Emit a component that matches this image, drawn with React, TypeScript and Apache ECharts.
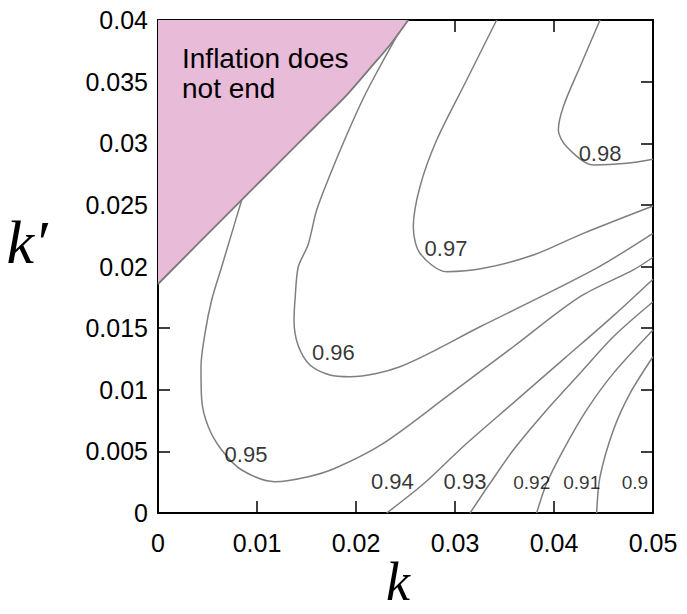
import React, { useEffect, useRef } from "react";
import * as echarts from "echarts";

// Axis tick labels
const xTickLabels = ["0", "0.01", "0.02", "0.03", "0.04", "0.05"];
const yTickLabels = ["0", "0.005", "0.01", "0.015", "0.02", "0.025", "0.03", "0.035", "0.04"];

// Boundary of the "Inflation does not end" region [k, k']
const boundary = [
  [0, 0.01858], [0.007273, 0.02445], [0.01064, 0.02716], [0.013, 0.02905],
  [0.01603, 0.03148], [0.01906, 0.03391], [0.02141, 0.03608], [0.02343, 0.03797],
  [0.02528, 0.04],
];

// Contour lines [k, k']
const contour098 = [
  [0.04465, 0.04], [0.04263, 0.03621], [0.04094, 0.03297], [0.04044, 0.03107],
  [0.04128, 0.02972], [0.04397, 0.02824], [0.04734, 0.02837], [0.05, 0.0287],
];
const contour097 = [
  [0.03421, 0.04], [0.03118, 0.03513], [0.02815, 0.03026], [0.02646, 0.02647],
  [0.02579, 0.02323], [0.02646, 0.02107], [0.02916, 0.01958], [0.03286, 0.01985],
  [0.03791, 0.02093], [0.04296, 0.02269], [0.05, 0.02491],
];
const contour096 = [
  [0.02427, 0.03892], [0.02209, 0.03574], [0.02074, 0.03365], [0.01906, 0.03067],
  [0.01737, 0.02742], [0.01603, 0.02458], [0.01515, 0.02174], [0.01417, 0.01998],
  [0.01384, 0.01728], [0.01374, 0.01566], [0.01414, 0.01363], [0.01535, 0.01201],
  [0.01737, 0.0112], [0.01939, 0.01106], [0.02444, 0.01187], [0.03253, 0.01511],
  [0.04397, 0.01972], [0.05, 0.02269],
];
const contour095 = [
  [0.008455, 0.0254], [0.007444, 0.02269], [0.006434, 0.01998], [0.005424, 0.01728],
  [0.004747, 0.01458], [0.004343, 0.01187], [0.004414, 0.009168], [0.005081, 0.007002],
  [0.006434, 0.005111], [0.008455, 0.003489], [0.01182, 0.00254], [0.01518, 0.002945],
  [0.01788, 0.003627], [0.02276, 0.005655], [0.02916, 0.00944], [0.03589, 0.01349],
  [0.04263, 0.01755], [0.04801, 0.01972], [0.05, 0.02075],
];
const contour094 = [
  [0.0231, 0], [0.0268, 0.00235], [0.03084, 0.0054], [0.03589, 0.00893],
  [0.04094, 0.01246], [0.04599, 0.01599], [0.05, 0.01896],
];
const contour093 = [
  [0.03152, 0], [0.03354, 0.00241], [0.03589, 0.00511], [0.03926, 0.00836],
  [0.04263, 0.01133], [0.04599, 0.0143], [0.05, 0.01714],
];
const contour092 = [
  [0.03825, 0], [0.03926, 0.00241], [0.04094, 0.00511], [0.0433, 0.00836],
  [0.04599, 0.01133], [0.05, 0.01485],
];
const contour091 = [
  [0.04431, 0], [0.04465, 0.00295], [0.046, 0.00674], [0.04768, 0.00971],
  [0.05, 0.01268],
];

// Contour level labels
const labelTexts = ["0.98", "0.97", "0.96", "0.95", "0.94", "0.93", "0.92", "0.91", "0.9"];
const labelK = [0.04465, 0.02909, 0.01771, 0.00889, 0.02367, 0.03101, 0.03775, 0.0428, 0.04818];
const labelKp = [0.02918, 0.02148, 0.01301, 0.004787, 0.00254, 0.00254, 0.002515, 0.002475, 0.002475];

const contours = [contour098, contour097, contour096, contour095, contour094, contour093, contour092, contour091];

const LINE_COLOR = "#7f7f7f";
const SANS = "'Liberation Sans', Arial, Helvetica, sans-serif";
const SERIF = "'Liberation Serif', 'Times New Roman', serif";

export default function App() {
  const ref = useRef<HTMLDivElement>(null);

  useEffect(() => {
    if (!ref.current) return;
    const chart = echarts.init(ref.current, undefined, { renderer: "svg" });

    const smallLabels = ["0.92", "0.91", "0.9"];
    const labelData = labelTexts.map((t, i) => ({
      value: [labelK[i], labelKp[i]],
      name: t,
      label: { fontSize: smallLabels.includes(t) ? 19 : 22 },
    }));

    const axisCommon = {
      type: "value" as const,
      splitLine: { show: false },
      axisLine: { show: true, onZero: false, lineStyle: { color: "#000", width: 2 } },
      axisTick: { show: true, inside: true, length: 12, lineStyle: { color: "#000", width: 1.5 } },
    };

    chart.setOption({
      animation: false,
      grid: { left: 158, top: 20, right: 34, bottom: 101, containLabel: false, outerBoundsMode: "none" },
      xAxis: [
        {
          ...axisCommon,
          min: 0,
          max: 0.05,
          interval: 0.01,
          position: "bottom",
          axisLabel: {
            show: true,
            margin: 30,
            verticalAlign: "middle",
            fontFamily: SANS,
            fontSize: 25,
            color: "#000",
            formatter: (v: number) => xTickLabels[Math.round(v / 0.01)],
          },
        },
        {
          ...axisCommon,
          min: 0,
          max: 0.05,
          interval: 0.01,
          position: "top",
          axisLabel: { show: false },
        },
      ],
      yAxis: [
        {
          ...axisCommon,
          min: 0,
          max: 0.04,
          interval: 0.005,
          position: "left",
          axisLabel: {
            show: true,
            margin: 10,
            fontFamily: SANS,
            fontSize: 25,
            color: "#000",
            formatter: (v: number) => yTickLabels[Math.round(v / 0.005)],
          },
        },
        {
          ...axisCommon,
          min: 0,
          max: 0.04,
          interval: 0.005,
          position: "right",
          axisLabel: { show: false },
        },
      ],
      series: [
        {
          type: "line",
          name: "Inflation does not end",
          data: boundary,
          showSymbol: false,
          silent: true,
          smooth: 0.3,
          lineStyle: { color: "#7a7a7a", width: 1.8 },
          areaStyle: { color: "#e8bbd8", opacity: 1, origin: "end" },
          z: 1,
        },
        ...contours.map((c, i) => ({
          type: "line" as const,
          name: "contour " + labelTexts[i],
          data: c,
          showSymbol: false,
          silent: true,
          smooth: 0.3,
          lineStyle: { color: LINE_COLOR, width: 1.5 },
          z: 2,
        })),
        {
          type: "scatter",
          name: "levels",
          data: labelData,
          symbolSize: 1,
          silent: true,
          itemStyle: { color: "rgba(0,0,0,0)" },
          label: {
            show: true,
            position: "inside",
            formatter: (p: any) => p.name,
            color: "#000",
            textBorderWidth: 0,
            fontFamily: SANS,
          },
          z: 3,
        },
      ],
      graphic: [
        {
          type: "text",
          x: 398,
          y: 582,
          silent: true,
          style: {
            text: "k",
            fontFamily: SERIF,
            fontStyle: "italic",
            fontSize: 54,
            fill: "#000",
            align: "center",
            verticalAlign: "middle",
          },
        },
        {
          type: "text",
          x: 27,
          y: 242,
          silent: true,
          style: {
            text: "k\u2032",
            fontFamily: SERIF,
            fontStyle: "italic",
            fontSize: 62,
            fill: "#000",
            align: "center",
            verticalAlign: "middle",
          },
        },
        {
          type: "text",
          x: 182,
          y: 58.5,
          silent: true,
          style: {
            text: "Inflation does",
            fontFamily: SANS,
            fontSize: 28,
            fill: "#000",
            align: "left",
            verticalAlign: "middle",
          },
          z: 10,
        },
        {
          type: "text",
          x: 182,
          y: 88.5,
          silent: true,
          style: {
            text: "not end",
            fontFamily: SANS,
            fontSize: 28,
            fill: "#000",
            align: "left",
            verticalAlign: "middle",
          },
          z: 10,
        },
      ],
    });

    return () => chart.dispose();
  }, []);

  return (
    <div
      ref={ref}
      style={{ position: "fixed", left: 0, top: 0, width: 687, height: 614, background: "#fff" }}
    />
  );
}
